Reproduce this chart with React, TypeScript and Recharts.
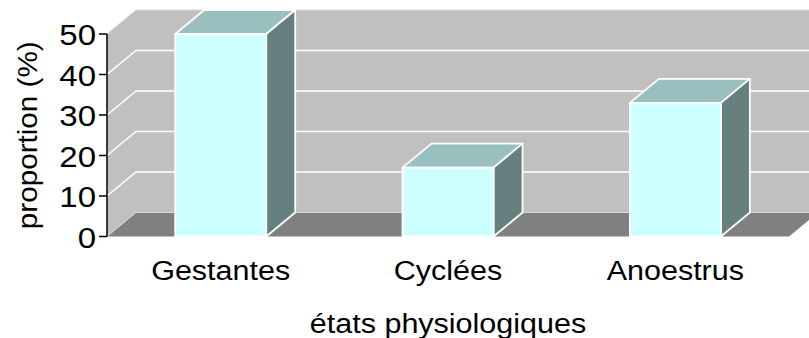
import React from "react";
import { BarChart, Bar, XAxis, YAxis, CartesianGrid } from "recharts";

const categories = ["Gestantes", "Cyclées", "Anoestrus"];
const proportions = [50, 17, 33];
const yTicks = [0, 10, 20, 30, 40, 50];
const xTitle = "états physiologiques";
const yTitle = "proportion (%)";

const data = categories.map((etat, i) => ({ etat, proportion: proportions[i] }));

// depth offset of the 3-D box (towards the back wall)
const DX = 29;
const DY = -24;

const FONT = "'Liberation Sans', Arial, Helvetica, sans-serif";
const STRETCH = 1.09;

const WALL = "#c0c0c0";
const FLOOR = "#808080";
const FRONT = "#ccffff";
const TOP = "#99bfbf";
const SIDE = "#668080";

// walls, floor and the gridlines running across side + back wall
function WallLine(props: any) {
  const { x1, x2, y1, index } = props;
  const pts: number[] = props.horizontalPoints ?? [y1];
  const top = props.y ?? Math.min(...pts);
  const bottom = props.height != null ? props.y + props.height : Math.max(...pts);
  const left = x1;
  const right = x2;
  const edge = y1 <= top + 0.5 || y1 >= bottom - 0.5;
  return (
    <g>
      {index === 0 && (
        <g>
          <polygon
            points={`${left},${bottom} ${left},${top} ${left + DX},${top + DY} ${left + DX},${bottom + DY}`}
            fill={WALL}
          />
          <rect x={left + DX} y={top + DY} width={right - left} height={bottom - top} fill={WALL} />
          <polygon
            points={`${left},${bottom} ${left + DX},${bottom + DY} ${right + DX},${bottom + DY} ${right},${bottom}`}
            fill={FLOOR}
          />
        </g>
      )}
      <polyline
        points={`${left},${y1} ${left + DX},${y1 + DY} ${right + DX},${y1 + DY}`}
        fill="none"
        stroke={edge ? "#dadada" : "#ffffff"}
        strokeWidth={edge ? 1 : 1.6}
      />
    </g>
  );
}

function Box(props: any) {
  const { x, y, width, height } = props;
  if (width == null || height == null) return null;
  const r = x + width;
  const b = y + height;
  return (
    <g stroke="#ffffff" strokeWidth={1.8} strokeLinejoin="round">
      <path d={`M${x},${y}L${x + DX},${y + DY}L${r + DX},${y + DY}L${r},${y}Z`} fill={TOP} />
      <path d={`M${r},${y}L${r + DX},${y + DY}L${r + DX},${b + DY}L${r},${b}Z`} fill={SIDE} />
      <rect x={x} y={y} width={width} height={height} fill={FRONT} />
    </g>
  );
}

function YTick(props: any) {
  const { x, y, payload } = props;
  return (
    <text
      transform={`translate(${x},${y + 11}) scale(1.1,1)`}
      textAnchor="end"
      fontFamily={FONT}
      fontSize={30}
      fill="#000"
    >
      {payload.value}
    </text>
  );
}

function XTick(props: any) {
  const { x, y, payload } = props;
  return (
    <text
      transform={`translate(${x},${y + 43}) scale(${STRETCH},1)`}
      textAnchor="middle"
      fontFamily={FONT}
      fontSize={28}
      fill="#000"
    >
      {payload.value}
    </text>
  );
}

function XTitle(props: any) {
  const vb = props.viewBox;
  return (
    <text
      transform={`translate(${vb.x + vb.width / 2},${vb.y + 96}) scale(${STRETCH},1)`}
      textAnchor="middle"
      fontFamily={FONT}
      fontSize={28}
      fill="#000"
    >
      {xTitle}
    </text>
  );
}

function YTitle(props: any) {
  const vb = props.viewBox;
  return (
    <text
      transform={`translate(${vb.x + 37},${vb.y + vb.height / 2}) rotate(-90) scale(1.06,1)`}
      textAnchor="middle"
      fontFamily={FONT}
      fontSize={28}
      fill="#000"
    >
      {yTitle}
    </text>
  );
}

export default function App() {
  return (
    <div style={{ position: "absolute", left: 0, top: 0, width: 809, height: 338, background: "#fff" }}>
      <BarChart
        width={809}
        height={338}
        data={data}
        margin={{ top: 34, right: 20, bottom: 0, left: 0 }}
        barCategoryGap="30%"
      >
        <CartesianGrid vertical={false} horizontal={(p: any) => <WallLine key={p.key} {...p} />} />
        <XAxis
          dataKey="etat"
          axisLine={false}
          tickLine={false}
          tickSize={0}
          tickMargin={0}
          height={101.5}
          interval={0}
          tick={<XTick />}
          label={{ value: xTitle, content: (p: any) => <XTitle {...p} /> }}
        />
        <YAxis
          domain={[0, 50]}
          ticks={yTicks}
          interval={0}
          width={107}
          tickSize={8}
          tickMargin={3}
          axisLine={{ stroke: "#000", strokeWidth: 1.5 }}
          tickLine={{ stroke: "#000", strokeWidth: 1.5 }}
          tick={<YTick />}
          label={{ value: yTitle, content: (p: any) => <YTitle {...p} /> }}
        />
        <Bar dataKey="proportion" isAnimationActive={false} shape={(p: any) => <Box {...p} />} />
      </BarChart>
    </div>
  );
}
